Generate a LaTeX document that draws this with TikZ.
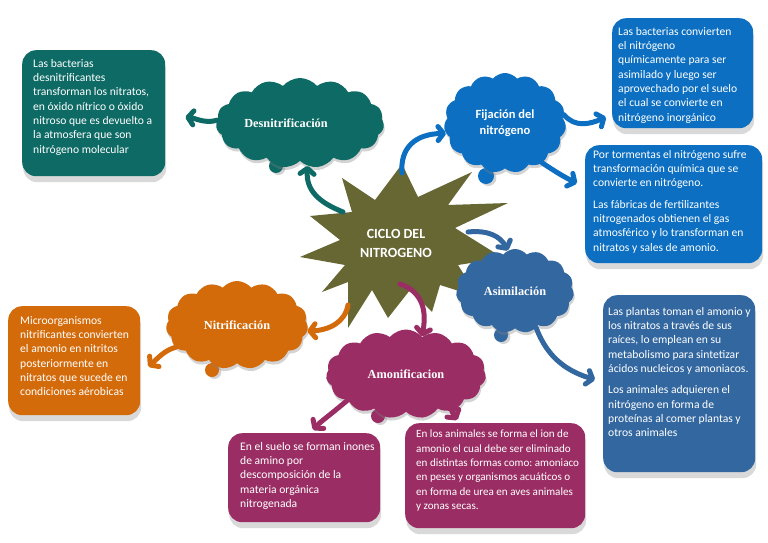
\documentclass[tikz,border=0pt]{standalone}
\usepackage{fontspec}
\setmainfont{Carlito}
\newfontfamily\nubefont{Liberation Serif}
\usetikzlibrary{shapes.symbols,shadows,arrows.meta}
\definecolor{verdeDes}{HTML}{0E6A65}
\definecolor{azulFij}{HTML}{0C6FC1}
\definecolor{azulAsim}{HTML}{3367A0}
\definecolor{naranjaNit}{HTML}{D46B0B}
\definecolor{moradoAmo}{HTML}{9A2E64}
\definecolor{olivaCiclo}{HTML}{676734}
\frenchspacing

\begin{document}
\begin{tikzpicture}[x=1pt,y=-1pt,
	caja/.style={rounded corners=14pt,inner sep=0pt,anchor=north west,drop shadow={opacity=.3,shadow xshift=1pt,shadow yshift=-6pt}},
	texto/.style={text=white,align=left,inner sep=0pt,anchor=north west,font=\fontsize{11.6}{14.3}\selectfont},
	nube/.style={cloud,cloud puffs=15,cloud puff arc=100,cloud ignores aspect,inner sep=0pt,text=white,drop shadow={opacity=.35,shadow xshift=1pt,shadow yshift=-3pt},font=\nubefont\bfseries\fontsize{12.3}{14}\selectfont},
	flecha/.style={line width=5pt,line cap=round,-{Straight Barb[length=5.5pt,width=14pt,line cap=round,line join=round]}}]
			\useasboundingbox (0,0) rectangle (768,543);

			\fill[olivaCiclo] (402,164) -- (418,197) -- (472,172) -- (448,205) -- (508,203) -- (455,228) -- (503,258) -- (458,265) -- (478,297) -- (440,285) -- (432,312) -- (410,290) -- (388,318) -- (372,290) -- (348,328) -- (348,282) -- (322,292) -- (345,265) -- (300,257) -- (340,240) -- (310,216) -- (352,212) -- (342,178) -- (375,200) -- cycle;
			\node[text=white,align=center,font=\bfseries\fontsize{14}{19}\selectfont] (ciclo) at (396,243) {CICLO DEL\\NITROGENO};

			\fill[verdeDes,drop shadow={opacity=.35,shadow yshift=-2pt}] (276,166) circle (7);
			\node[nube,fill=verdeDes,minimum width=168pt,minimum height=90pt] (desn) at (300,123) {Desnitrificación\hspace*{28pt}};
			\fill[azulFij,drop shadow={opacity=.35,shadow yshift=-2pt}] (486,176) circle (8);
			\node[nube,fill=azulFij,minimum width=122pt,minimum height=100pt,font=\bfseries\fontsize{12.5}{16}\selectfont,align=center] (fij) at (505,123) {Fijación del\\nitrógeno};
			\fill[azulAsim,drop shadow={opacity=.35,shadow yshift=-2pt}] (501,335) circle (7);
			\node[nube,fill=azulAsim,minimum width=118pt,minimum height=84pt] (asim) at (515,291) {Asimilación};
			\fill[naranjaNit,drop shadow={opacity=.35,shadow yshift=-2pt}] (212,370) circle (7);
			\node[nube,fill=naranjaNit,minimum width=142pt,minimum height=88pt] (nitr) at (237,325) {Nitrificación};
			\fill[moradoAmo,drop shadow={opacity=.35,shadow yshift=-2pt}] (378,416) circle (7);
			\node[nube,fill=moradoAmo,minimum width=160pt,minimum height=89pt] (amon) at (406,374) {Amonificacion};

			\node[caja,fill=verdeDes,minimum width=143pt,minimum height=126pt] (cajaDes) at (22,50) {};
			\node[texto] (textoDes) at (33,59) {Las bacterias\\desnitrificantes\\transforman los nitratos,\\en óxido nítrico o óxido\\nitroso que es devuelto a\\la atmosfera que son\\nitrógeno molecular};
			\node[caja,fill=azulFij,minimum width=141pt,minimum height=110pt] (cajaFij1) at (612,18) {};
			\node[texto] (textoFij1) at (618,27) {Las bacterias convierten\\el nitrógeno\\químicamente para ser\\asimilado y luego ser\\aprovechado por el suelo\\el cual se convierte en\\nitrógeno inorgánico};
			\node[caja,fill=azulFij,minimum width=177pt,minimum height=118pt] (cajaFij2) at (585,145) {};
			\node[texto] (textoFij2) at (593,150) {Por tormentas el nitrógeno sufre\\transformación química que se\\convierte en nitrógeno.\\[7pt]Las fábricas de fertilizantes\\nitrogenados obtienen el gas\\atmosférico y lo transforman en\\nitratos y sales de amonio.};
			\node[caja,fill=azulAsim,minimum width=152pt,minimum height=177pt] (cajaAsim) at (603,295) {};
			\node[texto] (textoAsim) at (608,307) {Las plantas toman el amonio y\\los nitratos a través de sus\\raíces, lo emplean en su\\metabolismo para sintetizar\\ácidos nucleicos y amoniacos.\\[7pt]Los animales adquieren el\\nitrógeno en forma de\\proteínas al comer plantas y\\otros animales};
			\node[caja,fill=naranjaNit,minimum width=132pt,minimum height=109pt] (cajaNitr) at (8,306) {};
			\node[texto] (textoNitr) at (20,316) {Microorganismos\\nitrificantes convierten\\el amonio en nitritos\\posteriormente en\\nitratos que sucede en\\condiciones aérobicas};
			\node[caja,fill=moradoAmo,minimum width=152pt,minimum height=89pt] (cajaAmo1) at (228,433) {};
			\node[texto] (textoAmo1) at (240,442) {En el suelo se forman inones\\de amino por\\descomposición de la\\materia orgánica\\nitrogenada};
			\node[caja,fill=moradoAmo,minimum width=180pt,minimum height=105pt] (cajaAmo2) at (405,423) {};
			\node[texto,font=\fontsize{11.1}{14.3}\selectfont] (textoAmo2) at (416,430) {En los animales se forma el ion de\\amonio el cual debe ser eliminado\\en distintas formas como: amoniaco\\en peses y organismos acuáticos o\\en forma de urea en aves animales\\y zonas secas.};

			\coordinate (sDes) at (343,212);
			\coordinate (sFij) at (402,173);
			\coordinate (sAsim) at (468,232);
			\coordinate (sNitr) at (348,305);
			\coordinate (sAmo) at (400,284);

			\draw[flecha,verdeDes] (sDes) .. controls (318,202) and (306,190) .. (desn.-80);
			\draw[flecha,verdeDes] (desn.178) .. controls (205,124) and (195,118) .. ([xshift=20pt,yshift=-4pt]cajaDes.east);
			\draw[flecha,azulFij] (sFij) .. controls (400,148) and (415,134) .. (fij.190);
			\draw[flecha,azulFij] (fij.8) .. controls (575,128) and (590,124) .. ([xshift=-6pt,yshift=-44pt]cajaFij1.west);
			\draw[flecha,azulFij] (fij.-47) .. controls (550,168) and (562,176) .. ([xshift=-8pt,yshift=21pt]cajaFij2.west);
			\draw[flecha,azulAsim] (sAsim) .. controls (488,230) and (500,236) .. (asim.100);
			\draw[flecha,azulAsim] (asim.-60) .. controls (548,360) and (570,372) .. ([xshift=-8pt,yshift=4pt]cajaAsim.west);
			\draw[flecha,naranjaNit] (sNitr) .. controls (345,322) and (330,330) .. (nitr.-5);
			\draw[flecha,naranjaNit] (nitr.200) .. controls (165,350) and (158,358) .. ([xshift=8pt,yshift=-6pt]cajaNitr.east);
			\draw[flecha,moradoAmo] (sAmo) .. controls (418,290) and (428,305) .. (amon.67);
			\draw[flecha,moradoAmo] (amon.204) .. controls (330,415) and (320,422) .. ([xshift=9pt,yshift=3pt]cajaAmo1.north);
			\draw[flecha,moradoAmo] (amon.-35) .. controls (448,405) and (452,412) .. ([xshift=-38pt,yshift=3pt]cajaAmo2.north);
		\end{tikzpicture}
\end{document}
